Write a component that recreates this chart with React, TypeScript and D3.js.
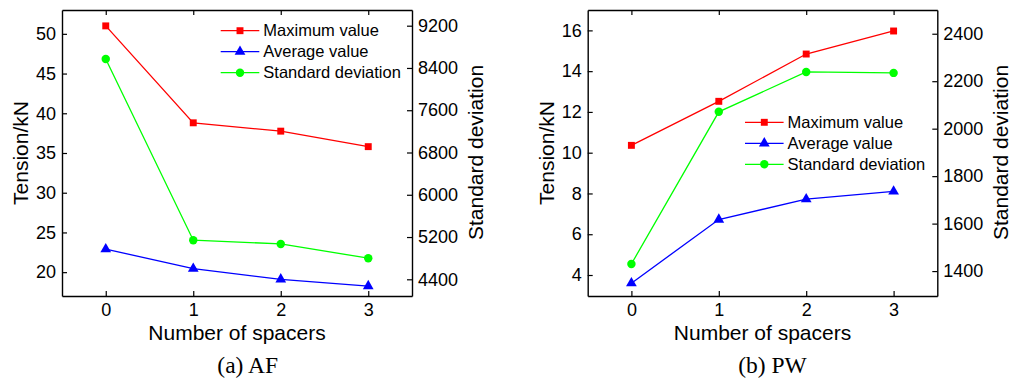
import React, { useEffect, useRef } from 'react';
import * as d3 from 'd3';

// spacer counts on the x axis
const categories = [0, 1, 2, 3];

// (a) AF
const afMax = [51.0, 38.8, 37.75, 35.8];
const afAvg = [22.9, 20.45, 19.1, 18.25];
const afStd = [8570, 5140, 5070, 4800];
const afLeftTicks = [20, 25, 30, 35, 40, 45, 50];
const afRightTicks = [4400, 5200, 6000, 6800, 7600, 8400, 9200];

// (b) PW
const pwMax = [10.36, 12.52, 14.84, 15.97];
const pwAvg = [3.6, 6.72, 7.72, 8.1];
const pwStd = [1430, 2071, 2239, 2235];
const pwLeftTicks = [4, 6, 8, 10, 12, 14, 16];
const pwRightTicks = [1400, 1600, 1800, 2000, 2200, 2400];

const seriesNames = ['Maximum value', 'Average value', 'Standard deviation'];
const seriesColors = ['#ff0000', '#0000ff', '#00ff00'];
const seriesSymbols = [d3.symbolSquare, d3.symbolTriangle, d3.symbolCircle];
const symbolSizes = [48, 50, 56];

const SANS = '"Liberation Sans", Arial, sans-serif';
const SERIF = '"Liberation Serif", "Times New Roman", serif';

const TOP = 10;
const BOTTOM = 296;

const drawPanel = (svg, cfg) => {
    const g = svg.append('g');

    const x = d3.scaleLinear().domain([-0.5, 3.5]).range([cfg.x0, cfg.x1]);
    const yL = d3.scaleLinear().domain(cfg.leftDomain).range([BOTTOM, TOP]);
    const yR = d3.scaleLinear().domain(cfg.rightDomain).range([BOTTOM, TOP]);
    const fmt = d3.format('d');

    const styleAxis = (a) => {
        a.attr('font-family', SANS).attr('font-size', 18);
        a.select('.domain').attr('stroke', '#000').attr('stroke-width', 1.4);
        a.selectAll('.tick line').attr('stroke', '#000').attr('stroke-width', 1.2);
        a.selectAll('.tick text').attr('fill', '#000');
    };

    g.append('g')
        .attr('transform', `translate(0,${BOTTOM})`)
        .call(d3.axisBottom(x).tickValues(categories).tickSize(-5).tickSizeOuter(0).tickPadding(7).tickFormat(fmt))
        .call(styleAxis);
    g.append('g')
        .attr('transform', `translate(0,${TOP})`)
        .call(d3.axisTop(x).tickValues(categories).tickSize(-5).tickSizeOuter(0).tickFormat(() => ''))
        .call(styleAxis);
    g.append('g')
        .attr('transform', `translate(${cfg.x0},0)`)
        .call(d3.axisLeft(yL).tickValues(cfg.leftTicks).tickSize(-5).tickSizeOuter(0).tickPadding(6).tickFormat(fmt))
        .call(styleAxis);
    g.append('g')
        .attr('transform', `translate(${cfg.x1},0)`)
        .call(d3.axisRight(yR).tickValues(cfg.rightTicks).tickSize(-5).tickSizeOuter(0).tickPadding(6).tickFormat(fmt))
        .call(styleAxis);

    // axis titles
    g.append('text')
        .attr('x', (cfg.x0 + cfg.x1) / 2)
        .attr('y', 339.5)
        .attr('text-anchor', 'middle')
        .attr('font-family', SANS)
        .attr('font-size', 21)
        .text('Number of spacers');
    g.append('text')
        .attr('transform', `translate(${cfg.x0 - 34},153) rotate(-90)`)
        .attr('text-anchor', 'middle')
        .attr('font-family', SANS)
        .attr('font-size', 21)
        .text('Tension/kN');
    g.append('text')
        .attr('transform', `translate(${cfg.x1 + 70.5},152.5) rotate(-90)`)
        .attr('text-anchor', 'middle')
        .attr('font-family', SANS)
        .attr('font-size', 21)
        .text('Standard deviation');

    // caption
    g.append('text')
        .attr('x', cfg.captionX)
        .attr('y', 373)
        .attr('text-anchor', 'middle')
        .attr('font-family', SERIF)
        .attr('font-size', 23.5)
        .text(cfg.caption);

    const series = [
        { values: cfg.max, y: yL },
        { values: cfg.avg, y: yL },
        { values: cfg.std, y: yR },
    ];

    series.forEach((s, i) => {
        const line = d3.line()
            .x((d, j) => x(categories[j]))
            .y(d => s.y(d));
        g.append('path')
            .datum(s.values)
            .attr('d', line)
            .attr('fill', 'none')
            .attr('stroke', seriesColors[i])
            .attr('stroke-width', 1.3);
    });

    series.forEach((s, i) => {
        g.selectAll(null)
            .data(s.values)
            .join('path')
            .attr('transform', (d, j) => `translate(${x(categories[j])},${s.y(d)})`)
            .attr('d', d3.symbol().type(seriesSymbols[i]).size(symbolSizes[i]))
            .attr('fill', seriesColors[i]);
    });

    // legend
    const leg = g.append('g').attr('transform', `translate(${cfg.legendX},${cfg.legendY})`);
    seriesNames.forEach((name, i) => {
        const row = leg.append('g').attr('transform', `translate(0,${i * 21})`);
        row.append('line')
            .attr('x1', 0).attr('x2', 38.6)
            .attr('stroke', seriesColors[i])
            .attr('stroke-width', 1.3);
        row.append('path')
            .attr('transform', 'translate(19.3,0)')
            .attr('d', d3.symbol().type(seriesSymbols[i]).size(symbolSizes[i]))
            .attr('fill', seriesColors[i]);
        row.append('text')
            .attr('x', 42.6)
            .attr('dy', '0.35em')
            .attr('font-family', SANS)
            .attr('font-size', 16.5)
            .text(name);
    });
};

const App = () => {
    const svgRef = useRef<SVGSVGElement>(null);

    useEffect(() => {
        const svg = d3.select(svgRef.current);
        svg.selectAll('*').remove();

        drawPanel(svg, {
            x0: 62, x1: 412,
            leftDomain: [17, 53], rightDomain: [4084, 9497],
            leftTicks: afLeftTicks, rightTicks: afRightTicks,
            max: afMax, avg: afAvg, std: afStd,
            legendX: 220.7, legendY: 30.7,
            caption: '(a) AF', captionX: 247.7,
        });
        drawPanel(svg, {
            x0: 587.7, x1: 937.3,
            leftDomain: [2.97, 17], rightDomain: [1295, 2500],
            leftTicks: pwLeftTicks, rightTicks: pwRightTicks,
            max: pwMax, avg: pwAvg, std: pwStd,
            legendX: 745, legendY: 122.3,
            caption: '(b) PW', captionX: 772.5,
        });
    }, []);

    return (
        <svg ref={svgRef} width={1011} height={385}
            style={{ position: 'absolute', left: 0, top: 0, background: '#fff' }} />
    );
};

export default App;
